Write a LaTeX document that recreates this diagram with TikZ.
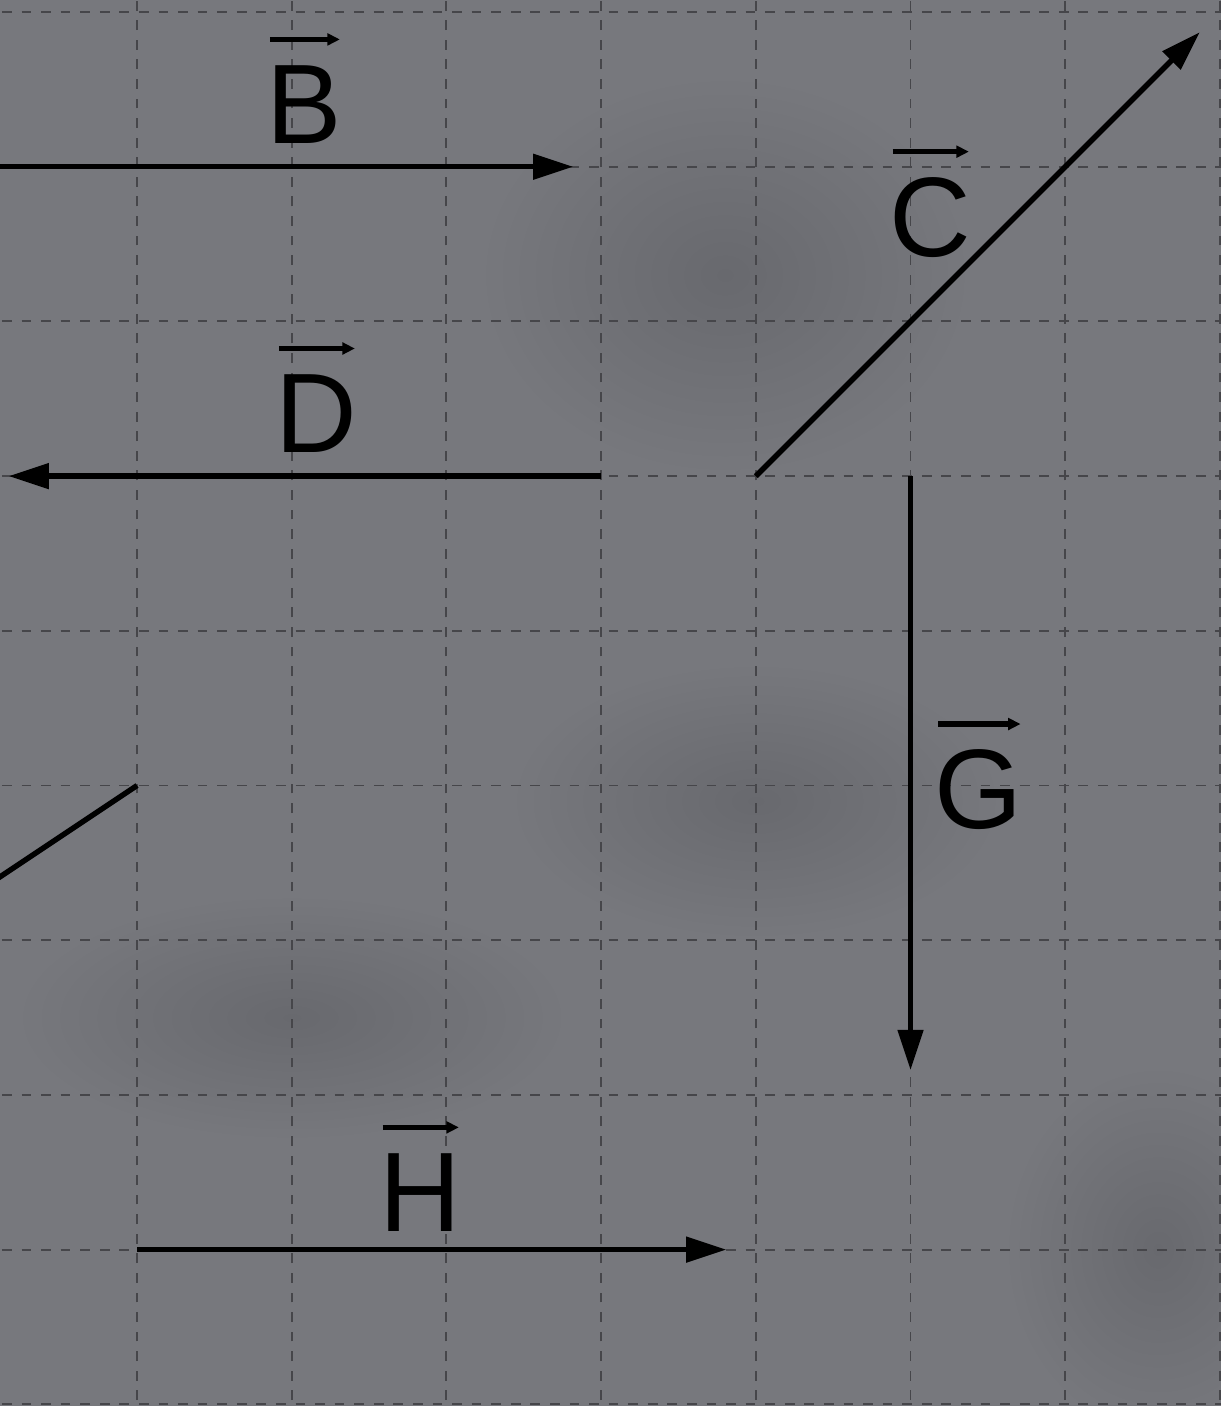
\documentclass[tikz,border=0pt]{standalone}
\usepackage{fontspec}
\setmainfont{Liberation Sans}
\usetikzlibrary{arrows.meta}
\definecolor{bg}{RGB}{119,120,125}
\definecolor{bgdark}{RGB}{104,105,110}
\definecolor{gridc}{RGB}{70,70,74}
\begin{document}
\begin{tikzpicture}[
  vec/.style={line width=1pt, -{Triangle[length=0.26cm,width=0.16cm]}},
  plainline/.style={line width=1pt},
  gridline/.style={gridc, line width=0.35pt, dash pattern=on 1.8pt off 1.8pt},
  lbl/.style={font=\fontsize{20.8}{24}\selectfont, inner sep=0pt, anchor=base},
  lblarrow/.style={line width=1pt, -{Triangle[length=0.08cm,width=0.075cm]}},
  blob/.style={inner color=bgdark, outer color=bg}
]
\useasboundingbox (-0.886,-0.011) rectangle (7.007,9.078);
\clip (-0.886,-0.011) rectangle (7.007,9.078);
\fill[bg] (-0.886,-0.011) rectangle (7.007,9.078);
% soft background shading
\shade[blob] (3.8,7.3) ellipse (1.6 and 1.3);
\shade[blob] (4.0,3.9) ellipse (1.6 and 0.9);
\shade[blob] (1.0,2.5) ellipse (1.8 and 0.8);
\shade[blob] (6.6,1.0) ellipse (1.0 and 1.2);
% grid
\foreach \x in {-1,...,7} \draw[gridline] (\x,-0.1) -- (\x,9.2);
\foreach \y in {0,...,9} \draw[gridline] (-1,\y) -- (7.1,\y);
% endpoints
\coordinate (b0) at (-1.5,8);   \coordinate (b1) at (2.82,8);
\coordinate (d0) at (3,6);      \coordinate (d1) at (-0.83,6);
\coordinate (c0) at (4,6);      \coordinate (c1) at (6.87,8.87);
\coordinate (g0) at (5,6);      \coordinate (g1) at (5,2.16);
\coordinate (h0) at (0,1);      \coordinate (h1) at (3.81,1);
\coordinate (e0) at (-1.5,3);   \coordinate (e1) at (0,4);
% vectors
\draw[vec] (b0) -- (b1);
\draw[vec] (d0) -- (d1);
\draw[vec] (c0) -- (c1);
\draw[vec] (g0) -- (g1);
\draw[vec] (h0) -- (h1);
\draw[plainline] (e0) -- (e1);
% labels
\node[lbl] (lB) at (1.08,8.153) {B};
\node[lbl] (lD) at (1.157,6.155) {D};
\node[lbl] (lC) at (5.126,7.42) {C};
\node[lbl] (lG) at (5.44,3.72) {G};
\node[lbl] (lH) at (1.829,1.12) {H};
\foreach \n in {lB,lD,lC,lG,lH}
  \draw[lblarrow] ([shift={(0.03,0.16)}]\n.north west) -- ([shift={(-0.02,0.16)}]\n.north east);
\end{tikzpicture}
\end{document}
